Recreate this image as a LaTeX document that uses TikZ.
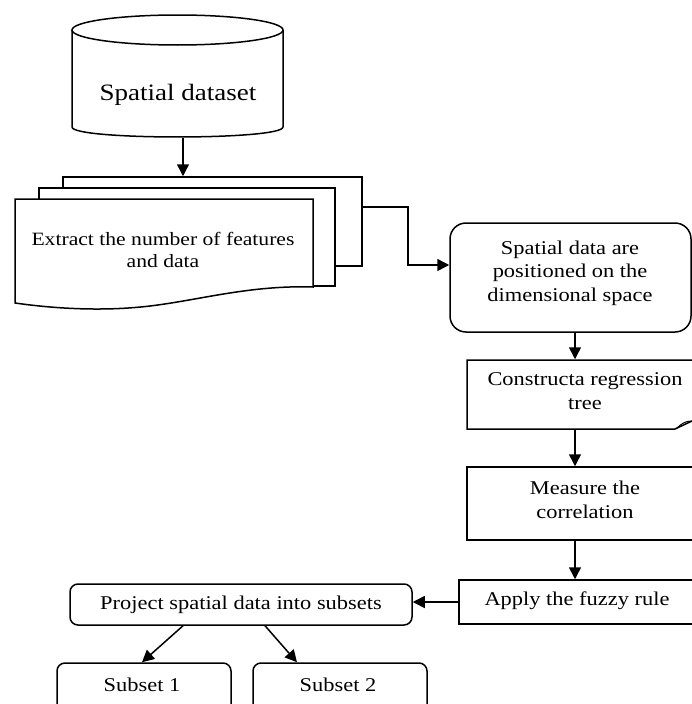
\documentclass[tikz,border=0pt]{standalone}
\usepackage{fontspec}
\setmainfont[FakeStretch=1.15]{Liberation Serif}
\usetikzlibrary{arrows.meta,calc}
\begin{document}
\begin{tikzpicture}[x=1pt,y=-1pt, line width=1.5pt,
  arr/.style={-{Triangle[length=12pt,width=12pt]}},
  box/.style={draw, fill=white, rectangle, inner sep=0pt},
  txt/.style={align=center, font=\fontsize{19.5}{23.5}\selectfont, inner sep=0pt}]
\useasboundingbox (0,0) rectangle (692,704);
\clip (0,0) rectangle (692,704);

% cylinder
\draw[fill=white] (72,30) -- (72,127) .. controls (72,140.3) and (283,140.3) .. (283,127) -- (283,30);
\draw[fill=white] (177.5,30) ellipse [x radius=105.5pt, y radius=15pt];
\node[inner sep=0pt, minimum width=211pt, minimum height=123pt] (db) at (177.5,75.5) {};
\node[txt, font=\fontsize{23.5}{28}\selectfont] (dbtext) at (178,95) {Spatial dataset};

% multi-document
\node[box, minimum width=299pt, minimum height=89pt] (back) at (212.5,221.5) {};
\node[box, minimum width=296pt, minimum height=98pt] (mid) at (187,237) {};
\draw[fill=white] (15,199) -- (313,199) -- (313,287)
  .. controls (250,285) and (200,300) .. (150,306)
  .. controls (100,312) and (50,308) .. (15,303) -- cycle;
\node[txt, font=\fontsize{18.8}{22.5}\selectfont] (extract) at (163,250) {Extract the number of features\\and data};

% spatial positioning
\node[box, rounded corners=16pt, minimum width=241pt, minimum height=109pt] (spatial) at (570.5,277.5) {};
\node[txt] (stext) at (570,273) {Spatial data are\\positioned on the\\dimensional space};

% construct
\draw[fill=white] (700,360) -- (467,360) -- (467,429) -- (675,429) -- (692,421);
\draw[line width=1pt] (677,428) .. controls (682,423) and (686,421) .. (692,421);
\node[inner sep=0pt, minimum width=225pt, minimum height=69pt] (construct) at (579.5,394.5) {};
\node[txt] (ctext) at (585,391) {Constructa regression\\tree};

% measure
\node[box, minimum width=260pt, minimum height=73pt] (measure) at (597,503.5) {};
\node[txt] (mtext) at (585,500) {Measure the\\correlation};

% apply
\node[box, minimum width=268pt, minimum height=44pt] (apply) at (593,602) {};
\node[txt] (atext) at (577,601) {Apply the fuzzy rule};

% project
\node[box, txt, rounded corners=8pt, minimum width=342pt, minimum height=41pt] (project) at (241,604.5) {Project spatial data into subsets};

% subsets
\node[box, rounded corners=8pt, minimum width=174pt, minimum height=57pt] (subA) at (144,691.5) {};
\node[txt] (s1t) at (142,685) {Subset 1};
\node[box, rounded corners=8pt, minimum width=174pt, minimum height=57pt] (subB) at (340,691.5) {};
\node[txt] (s2t) at (338,685) {Subset 2};

% connectors
\coordinate (ax1) at (183,0);
\coordinate (ax2) at (575,0);
\coordinate (y265) at (0,265);
\draw[arr] (db.south -| ax1) -- (back.north -| ax1);
\draw[arr] ([yshift=14.5pt]back.east) -- ++(45,0) |- (spatial.west |- y265);
\draw[arr] (spatial.south -| ax2) -- (construct.north -| ax2);
\draw[arr] (construct.south -| ax2) -- (measure.north -| ax2);
\draw[arr] (measure.south -| ax2) -- (apply.north -| ax2);
\draw[arr] (apply.west) -- (apply.west -| project.east);
\draw[arr] ([xshift=-58pt]project.south) -- ([xshift=-2pt]subA.north);
\draw[arr] ([xshift=24pt]project.south) -- ([xshift=-43pt]subB.north);
\end{tikzpicture}
\end{document}
